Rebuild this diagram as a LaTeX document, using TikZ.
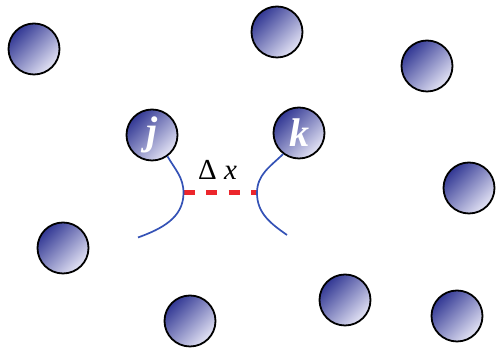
\documentclass[tikz,border=0pt]{standalone}
\usepackage{fontspec}
\setmainfont{Liberation Serif}
\definecolor{balldark}{RGB}{50,56,148}
\definecolor{balllight}{RGB}{228,228,245}
\definecolor{bondblue}{RGB}{52,82,182}
\definecolor{gapred}{RGB}{236,38,44}

\begin{document}
\begin{tikzpicture}[
  x=1pt,y=1pt,
  ball/.style={circle,draw=black,line width=1.8pt,minimum size=51pt,inner sep=0pt,top color=balldark,bottom color=balllight,shading angle=45,text=white,font=\fontsize{40}{40}\selectfont\bfseries\itshape},
  bond/.style={draw=bondblue,line width=1.7pt},
  gap/.style={draw=gapred,line width=5pt,dash pattern=on 11pt off 11.5pt}
]
  \useasboundingbox (0,0) rectangle (496,352);

  \node[ball] (a1) at (34,303) {};
  \node[ball] (a2) at (277,320) {};
  \node[ball] (a3) at (427,286) {};
  \node[ball] (a4) at (469,164) {};
  \node[ball] (a5) at (63,104) {};
  \node[ball] (a6) at (190,31) {};
  \node[ball] (a7) at (345,52) {};
  \node[ball] (a8) at (457,36) {};
  \node[ball] (j) at (152,217) {j};
  \node[ball] (k) at (299,219) {k};

  \coordinate (jtip) at (183.5,159);
  \coordinate (ktip) at (257,159);
  \coordinate (jend) at (138,114.5);
  \coordinate (kend) at (287,117);
  \draw[gap] (jtip) -- (ktip);
  \draw[bond] (j.-54) to[out=-60,in=90] (jtip) to[out=-90,in=20] (jend);
  \draw[bond] (k.-127) to[out=-136,in=90] (ktip) to[out=-90,in=145] (kend);
  \node[font=\fontsize{29}{29}\selectfont,anchor=base] (dx) at (217.5,172) {Δ \textit{x}};
\end{tikzpicture}
\end{document}
